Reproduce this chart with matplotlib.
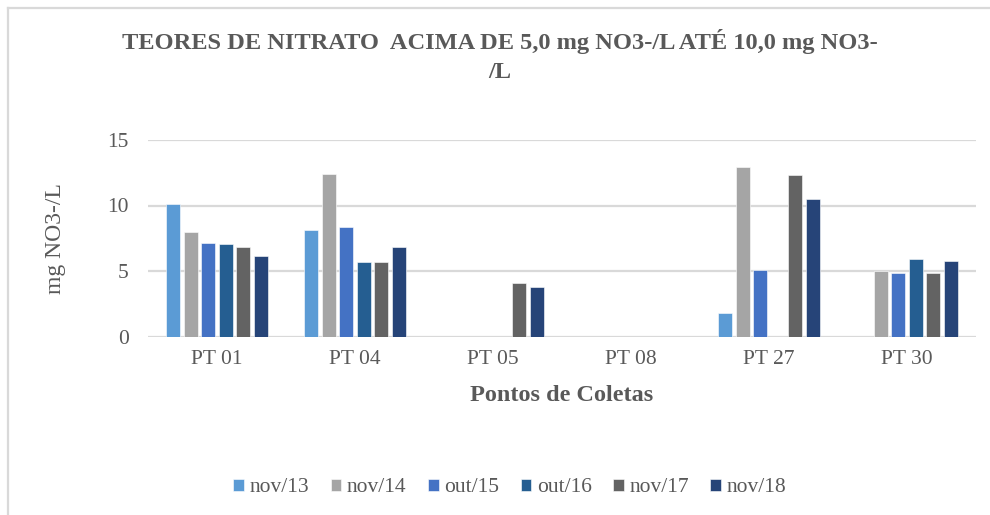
import numpy as np
import matplotlib.pyplot as plt
from matplotlib.lines import Line2D

pontos = ['PT 01', 'PT 04', 'PT 05', 'PT 08', 'PT 27', 'PT 30']
campanhas = ['nov/13', 'nov/14', 'out/15', 'out/16', 'nov/17', 'nov/18']

# mg NO3-/L per campaign, one value per ponto (0 = no bar)
nov13 = [10.1, 8.1, 0, 0, 1.8, 0]
nov14 = [8.0, 12.4, 0, 0, 12.95, 5.0]
out15 = [7.1, 8.35, 0, 0, 5.1, 4.85]
out16 = [7.05, 5.7, 0, 0, 0, 5.9]
nov17 = [6.85, 5.65, 4.05, 0, 12.35, 4.85]
nov18 = [6.15, 6.8, 3.75, 0, 10.5, 5.8]
series = [nov13, nov14, out15, out16, nov17, nov18]

cores = ['#5B9BD5', '#A5A5A5', '#4472C4', '#255E91', '#636363', '#264478']
txt = '#595959'
serif = ['Liberation Serif', 'DejaVu Serif']

fig = plt.figure(figsize=(9.9, 5.15), dpi=100)
ax = fig.add_axes([148/990, 1 - 336.5/515, 828/990, 196.5/515])

x = np.arange(len(pontos))
slot = 0.127
for i, vals in enumerate(series):
    pos = x + (i - 2.5) * slot
    ax.bar(pos, vals, width=0.104, color=cores[i], edgecolor='white',
           linewidth=0.4, label=campanhas[i], zorder=3)

ax.set_xlim(-0.5, 5.5)
ax.set_ylim(0, 15)
ax.set_yticks([0, 5, 10, 15])
ax.set_xticks(x)
ax.set_xticklabels(pontos)
ax.yaxis.grid(True, color='#D9D9D9', linewidth=1.6, zorder=0)
ax.set_axisbelow(True)
for s in ax.spines.values():
    s.set_visible(False)
ax.tick_params(length=0, labelsize=15.5, colors=txt)
ax.tick_params(axis='x', pad=10)
ax.tick_params(axis='y', pad=14)
for lab in ax.get_xticklabels() + ax.get_yticklabels():
    lab.set_family(serif)

ax.set_ylabel('mg NO3-/L', family=serif, fontsize=17, color=txt, va='center')
ax.yaxis.set_label_coords(-0.112, 0.5)
ax.set_xlabel('Pontos de Coletas', family=serif, fontsize=17.5, color=txt,
              fontweight='bold', va='center')
ax.xaxis.set_label_coords(0.5, -0.298)

fig.text(0.5045, 1 - 42/515, 'TEORES DE NITRATO  ACIMA DE 5,0 mg NO3-/L ATÉ 10,0 mg NO3-',
         ha='center', va='center', family=serif, fontsize=17.6, fontweight='bold',
         color=txt)
fig.text(0.5045, 1 - 72/515, '/L',
         ha='center', va='center', family=serif, fontsize=17.6, fontweight='bold',
         color=txt)

leg = fig.legend(loc='center', bbox_to_anchor=(0.515, 1 - 488/515), ncol=6,
                 frameon=False, prop={'family': serif, 'size': 15.5},
                 handlelength=0.5, handleheight=0.5, handletextpad=0.25,
                 columnspacing=1.0)
for t in leg.get_texts():
    t.set_color(txt)

# chart border (top and left only visible)
fig.add_artist(Line2D([8/990, 8/990], [0, 1 - 8/515], color='#D9D9D9',
                      linewidth=1.6, transform=fig.transFigure))
fig.add_artist(Line2D([8/990, 1], [1 - 8/515, 1 - 8/515], color='#D9D9D9',
                      linewidth=1.6, transform=fig.transFigure))

fig.savefig('out.png', dpi=100)
